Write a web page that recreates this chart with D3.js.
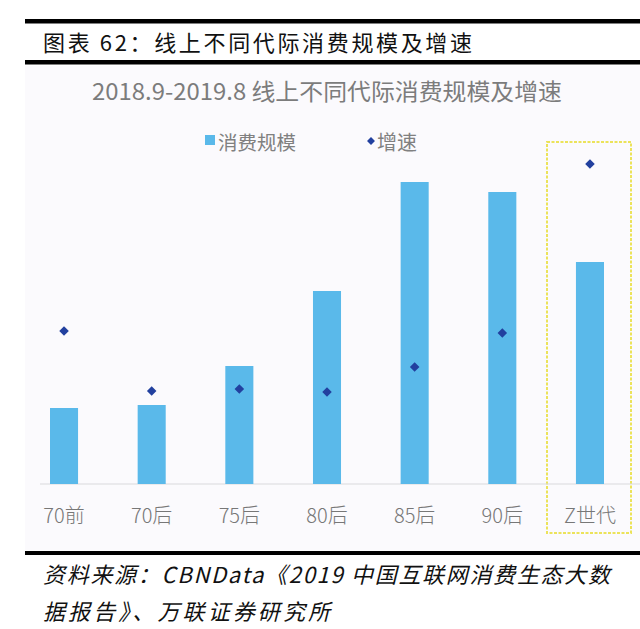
<!DOCTYPE html>
<html><head><meta charset="utf-8">
<script src="https://cdn.jsdelivr.net/npm/d3@7"></script>
<style>
html,body{margin:0;padding:0;background:#fff;}
svg{display:block;}
text{font-family:"Noto Sans CJK SC","Noto Sans",sans-serif;}
</style></head>
<body>
<script>
const categories = ["70前","70后","75后","80后","85后","90后","Z世代"];
const scaleValues = [76, 79, 118, 193, 302, 292, 222];   // 消费规模 (relative)
const growthValues = [153, 93, 95, 92, 117, 151, 320];   // 增速 (relative)
const figureTitle = "图表 62：线上不同代际消费规模及增速";
const chartTitle = "2018.9-2019.8 线上不同代际消费规模及增速";
const legendLabels = ["消费规模", "增速"];
const sourceLines = ["资料来源：CBNData《2019 中国互联网消费生态大数", "据报告》、万联证券研究所"];

const W = 640, H = 629;
const svg = d3.select("body").append("svg").attr("width", W).attr("height", H);
svg.append("rect").attr("width", W).attr("height", H).attr("fill", "#fff");
svg.append("rect").attr("x", 25).attr("y", 66).attr("width", 615).attr("height", 484).attr("fill", "#fbfafd");

// header rules and title
svg.append("rect").attr("x", 25).attr("y", 19).attr("width", 615).attr("height", 4.5).attr("fill", "#000");
svg.append("rect").attr("x", 25).attr("y", 60).attr("width", 615).attr("height", 4.5).attr("fill", "#000");
svg.append("text").attr("x", 43).attr("y", 51).attr("font-size", 22).attr("fill", "#111")
  .attr("textLength", 429).attr("lengthAdjust", "spacing").text(figureTitle);

// chart title
svg.append("text").attr("x", 92).attr("y", 100).attr("font-size", 23).attr("font-weight", 400)
  .attr("fill", "#7c7c7c").attr("textLength", 470).attr("lengthAdjust", "spacingAndGlyphs").text(chartTitle);

// scales
const x = d3.scaleBand().domain(categories).range([20.2, 633.8]).paddingInner(0.68).paddingOuter(0.34);
const y = d3.scaleLinear().domain([0, 350]).range([484, 134]);

// highlight box for Z世代
svg.append("rect").attr("x", 547).attr("y", 142).attr("width", 84).attr("height", 391)
  .attr("fill", "none").attr("stroke", "#ece35a").attr("stroke-width", 2).attr("stroke-dasharray", "3,1.5");

// axis line
svg.append("line").attr("x1", 40).attr("x2", 640).attr("y1", 484).attr("y2", 484)
  .attr("stroke", "#d9d9dc").attr("stroke-width", 1);

// bars
svg.selectAll("rect.bar").data(categories).join("rect").attr("class", "bar")
  .attr("x", d => x(d)).attr("width", x.bandwidth())
  .attr("y", (d, i) => y(scaleValues[i])).attr("height", (d, i) => y(0) - y(scaleValues[i]))
  .attr("fill", "#5ab9ea");

// diamonds
const diamond = d3.symbol().type(d3.symbolDiamond2).size(58);
svg.selectAll("path.dot").data(categories).join("path").attr("class", "dot")
  .attr("d", diamond)
  .attr("transform", (d, i) => `translate(${x(d) + x.bandwidth() / 2},${y(growthValues[i])})`)
  .attr("fill", "#22409f");

// x labels
svg.selectAll("text.xl").data(categories).join("text").attr("class", "xl")
  .attr("x", d => x(d) + x.bandwidth() / 2).attr("y", 514).attr("dominant-baseline", "central")
  .attr("text-anchor", "middle").attr("font-size", 20).attr("font-weight", 300).attr("fill", "#777").text(d => d);

// legend
svg.append("rect").attr("x", 205).attr("y", 135).attr("width", 10).attr("height", 10).attr("fill", "#5ab9ea");
svg.append("text").attr("x", 218).attr("y", 141).attr("dominant-baseline", "central")
  .attr("font-size", 19.5).attr("fill", "#808080").text(legendLabels[0]);
svg.append("path").attr("d", d3.symbol().type(d3.symbolDiamond2).size(40))
  .attr("transform", "translate(371,141)").attr("fill", "#22409f");
svg.append("text").attr("x", 377).attr("y", 141).attr("dominant-baseline", "central")
  .attr("font-size", 20).attr("fill", "#808080").text(legendLabels[1]);

// footer rule and source
svg.append("rect").attr("x", 25).attr("y", 551).attr("width", 615).attr("height", 4).attr("fill", "#000");
svg.append("text").attr("x", 43).attr("y", 583).attr("font-size", 22).attr("font-style", "italic")
  .attr("fill", "#111").attr("textLength", 567).attr("lengthAdjust", "spacing").text(sourceLines[0]);
svg.append("text").attr("x", 43).attr("y", 620).attr("font-size", 22).attr("font-style", "italic")
  .attr("fill", "#111").attr("textLength", 287).attr("lengthAdjust", "spacing").text(sourceLines[1]);
</script>
</body></html>
